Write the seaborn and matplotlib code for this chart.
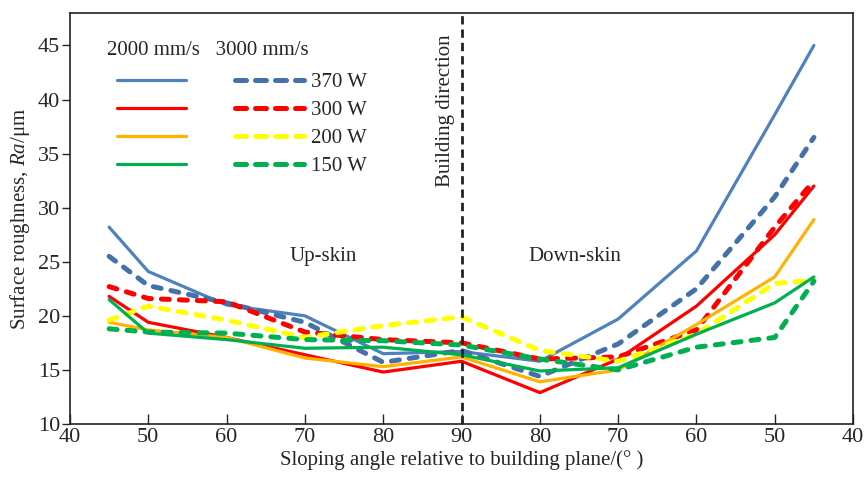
import matplotlib
matplotlib.use("Agg")
import matplotlib.pyplot as plt
from matplotlib.lines import Line2D
import seaborn as sns
import pandas as pd

# ---- data ----
sample_angles = [45, 50, 60, 70, 80, 90, 80, 70, 60, 50, 45]
side = ["up"] * 6 + ["down"] * 5
tick_labels = ["40", "50", "60", "70", "80", "90", "80", "70", "60", "50", "40"]

b2000 = [28.2, 24.1, 21.0, 20.0, 16.5, 16.7, 15.8, 19.7, 26.0, 38.6, 45.0]
b3000 = [25.5, 22.8, 21.2, 19.4, 15.7, 16.8, 14.4, 17.4, 22.5, 31.0, 36.5]
r2000 = [21.8, 19.4, 18.0, 16.4, 14.8, 15.8, 12.9, 16.0, 20.9, 27.5, 32.0]
r3000 = [22.7, 21.6, 21.3, 18.5, 17.8, 17.5, 16.0, 16.2, 18.7, 28.2, 32.5]
o2000 = [19.4, 18.7, 18.0, 16.1, 15.3, 16.2, 13.9, 15.0, 19.2, 23.6, 28.9]
y3000 = [19.6, 20.9, 19.6, 18.0, 19.1, 19.9, 16.8, 15.8, 18.3, 23.0, 23.3]
g2000 = [21.5, 18.4, 17.8, 17.0, 17.1, 16.4, 14.9, 15.2, 18.3, 21.2, 23.6]
g3000 = [18.8, 18.5, 18.4, 17.8, 17.7, 17.3, 16.0, 15.0, 17.1, 18.0, 23.2]

powers = ["370 W", "300 W", "200 W", "150 W"]
speeds = ["2000 mm/s", "3000 mm/s"]
series = {
    ("2000 mm/s", "370 W"): b2000, ("3000 mm/s", "370 W"): b3000,
    ("2000 mm/s", "300 W"): r2000, ("3000 mm/s", "300 W"): r3000,
    ("2000 mm/s", "200 W"): o2000, ("3000 mm/s", "200 W"): y3000,
    ("2000 mm/s", "150 W"): g2000, ("3000 mm/s", "150 W"): g3000,
}
colors = {
    ("2000 mm/s", "370 W"): "#4f81bd", ("3000 mm/s", "370 W"): "#4472a8",
    ("2000 mm/s", "300 W"): "#ff0000", ("3000 mm/s", "300 W"): "#ff0000",
    ("2000 mm/s", "200 W"): "#ffb300", ("3000 mm/s", "200 W"): "#ffff00",
    ("2000 mm/s", "150 W"): "#00b050", ("3000 mm/s", "150 W"): "#00b050",
}

# position on a mirrored axis: up-skin angle a -> a, down-skin angle a -> 180 - a
pos = [a if s == "up" else 180 - a for a, s in zip(sample_angles, side)]

rows = []
for (speed, power), vals in series.items():
    for p, v in zip(pos, vals):
        rows.append({"pos": p, "Ra": v, "speed": speed, "power": power,
                     "key": f"{speed}|{power}"})
df = pd.DataFrame(rows)
palette = {f"{k[0]}|{k[1]}": c for k, c in colors.items()}

sns.set_theme(style="ticks")
plt.rcParams["font.family"] = ["Liberation Serif", "DejaVu Serif"]
plt.rcParams["mathtext.fontset"] = "custom"
plt.rcParams["mathtext.it"] = "Liberation Serif:italic"
plt.rcParams["mathtext.rm"] = "Liberation Serif"

fig = plt.figure(figsize=(8.67, 4.8), dpi=100)
ax = fig.add_axes([0.0807, 0.1167, 0.9032, 0.8562])

dash = (1.6, 2.0)
order = []
for pw in powers:
    order += [f"2000 mm/s|{pw}", f"3000 mm/s|{pw}"]
sns.lineplot(data=df, x="pos", y="Ra", hue="key", hue_order=order, palette=palette,
             style="speed", dashes={"2000 mm/s": "", "3000 mm/s": dash},
             size="speed", sizes={"2000 mm/s": 2.3, "3000 mm/s": 3.6},
             legend=False, ax=ax, sort=False)
for ln in ax.get_lines():
    ln.set_dash_capstyle("round")
    ln.set_solid_capstyle("round")

ax.axvline(90, color="#222222", lw=2.0, ls=(0, (3.0, 1.8)), zorder=5)

ax.set_xlim(40, 140)
ax.set_ylim(10, 48)
ax.set_xticks(list(range(40, 141, 10)))
ax.set_xticklabels(tick_labels)
ax.set_yticks(list(range(10, 46, 5)))
ax.tick_params(axis="x", direction="in", length=7, width=1, labelsize=16, pad=3)
ax.tick_params(axis="y", direction="out", length=6, width=1, labelsize=16, pad=1)
for sp in ax.spines.values():
    sp.set_linewidth(1.2)
    sp.set_color("#222222")

ax.set_xlabel("Sloping angle relative to building plane/(° )", fontsize=15, labelpad=2)
ax.set_ylabel("Surface roughness, $Ra$/μm", fontsize=15, labelpad=4)

ax.text(72.3, 25.5, "Up-skin", fontsize=15, ha="center", va="center")
ax.text(104.5, 25.5, "Down-skin", fontsize=15, ha="center", va="center")
ax.text(88.0, 39.0, "Building direction", fontsize=15, rotation=90,
        ha="center", va="center")

# legend: column headers + two columns of handles
ax.text(0.047, 0.908, speeds[0] + "   " + speeds[1], transform=ax.transAxes,
        fontsize=15, ha="left", va="center")
handles = []
labels = []
for pw in powers:
    handles.append(Line2D([], [], color=colors[(speeds[0], pw)], lw=2.3,
                          solid_capstyle="round"))
    labels.append("")
for pw in powers:
    handles.append(Line2D([], [], color=colors[(speeds[1], pw)], lw=3.6,
                          ls=(0, (2.2, 1.8)), dash_capstyle="round"))
    labels.append(pw)
leg = ax.legend(handles, labels, ncol=2, loc="upper left",
                bbox_to_anchor=(0.055, 0.865), frameon=False, fontsize=15,
                handlelength=3.3, handletextpad=0.35,
                columnspacing=2.0, labelspacing=0.4, borderpad=0.2,
                borderaxespad=0)

fig.savefig("out.png", dpi=100)
